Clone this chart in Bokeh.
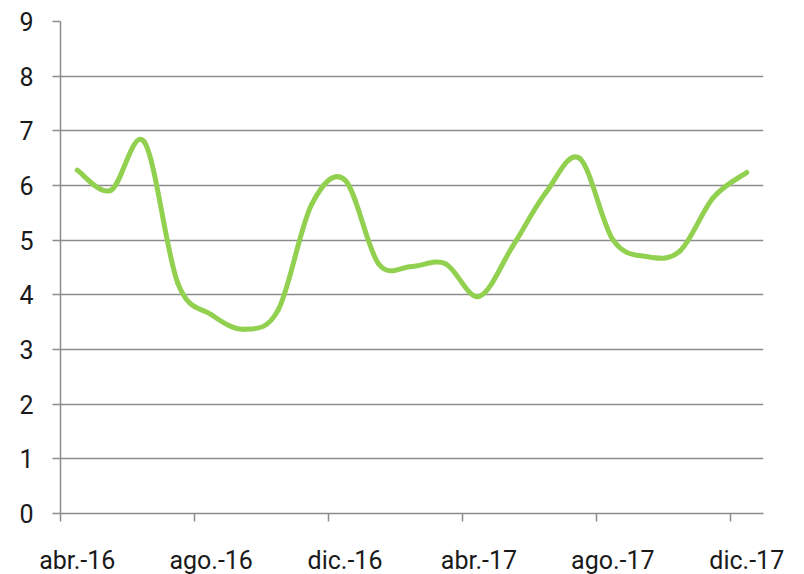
from bokeh.plotting import figure
from bokeh.models import ColumnDataSource, FixedTicker, Range1d
from bokeh.embed import file_html
from bokeh.resources import INLINE

months = ["abr.-16", "may.-16", "jun.-16", "jul.-16", "ago.-16", "sep.-16", "oct.-16",
          "nov.-16", "dic.-16", "ene.-17", "feb.-17", "mar.-17", "abr.-17", "may.-17",
          "jun.-17", "jul.-17", "ago.-17", "sep.-17", "oct.-17", "nov.-17", "dic.-17"]
values = [6.28, 5.91, 6.80, 4.22, 3.64, 3.37, 3.72, 5.65, 6.10, 4.57, 4.52, 4.57,
          3.97, 4.88, 5.87, 6.50, 5.01, 4.70, 4.80, 5.78, 6.24]
tick_labels = ["abr.-16", "ago.-16", "dic.-16", "abr.-17", "ago.-17", "dic.-17"]
y_ticks = [0, 1, 2, 3, 4, 5, 6, 7, 8, 9]

n = len(values)
xs = [i + 0.5 for i in range(n)]

# Smoothed line (Catmull-Rom style bezier segments built from the data points)
x0, y0, x1, y1, cx0, cy0, cx1, cy1 = [], [], [], [], [], [], [], []
for i in range(n - 1):
    pxm, pym = (xs[i - 1], values[i - 1]) if i > 0 else (xs[i], values[i])
    pxp, pyp = (xs[i + 2], values[i + 2]) if i + 2 < n else (xs[i + 1], values[i + 1])
    x0.append(xs[i]); y0.append(values[i])
    x1.append(xs[i + 1]); y1.append(values[i + 1])
    cx0.append(xs[i] + (xs[i + 1] - pxm) / 6.0)
    cy0.append(values[i] + (values[i + 1] - pym) / 6.0)
    cx1.append(xs[i + 1] - (pxp - xs[i]) / 6.0)
    cy1.append(values[i + 1] - (pyp - values[i]) / 6.0)

src = ColumnDataSource(dict(x0=x0, y0=y0, x1=x1, y1=y1, cx0=cx0, cy0=cy0, cx1=cx1, cy1=cy1))

p = figure(frame_width=703, frame_height=492, output_backend="svg", toolbar_location=None,
           x_range=Range1d(0, n), y_range=Range1d(0, 9),
           min_border_left=60, min_border_right=30, min_border_top=21, min_border_bottom=40)
p.outline_line_color = None
p.background_fill_color = "white"
p.border_fill_color = "white"

p.bezier(x0="x0", y0="y0", x1="x1", y1="y1", cx0="cx0", cy0="cy0", cx1="cx1", cy1="cy1",
         source=src, line_color="#92D050", line_width=5, line_cap="round")

grid_col = "#8c8c8c"
font = "Roboto"

# x axis
lab_pos = [months.index(t, 4 * i) + 0.5 for i, t in enumerate(tick_labels)]
p.xaxis.ticker = FixedTicker(ticks=lab_pos, minor_ticks=[0, 4, 8, 12, 16, 20])
p.xaxis.major_label_overrides = {pos: t for pos, t in zip(lab_pos, tick_labels)}
p.xaxis.major_tick_line_color = None
p.xaxis.minor_tick_line_color = grid_col
p.xaxis.minor_tick_line_width = 1.5
p.xaxis.minor_tick_in = 0
p.xaxis.minor_tick_out = 8
p.xaxis.axis_line_color = grid_col
p.xaxis.axis_line_width = 1.5
p.xaxis.major_label_text_font = font
p.xaxis.major_label_text_font_size = "25px"
p.xaxis.major_label_text_color = "#1a1a1a"
p.xaxis.major_label_standoff = 24

# y axis
p.yaxis.ticker = FixedTicker(ticks=y_ticks)
p.yaxis.major_tick_line_color = grid_col
p.yaxis.major_tick_line_width = 1.5
p.yaxis.major_tick_in = 0
p.yaxis.major_tick_out = 8
p.yaxis.minor_tick_line_color = None
p.yaxis.axis_line_color = grid_col
p.yaxis.axis_line_width = 1.5
p.yaxis.major_label_text_font = font
p.yaxis.major_label_text_font_size = "25px"
p.yaxis.major_label_text_color = "#1a1a1a"
p.yaxis.major_label_standoff = 19

p.xgrid.grid_line_color = None
p.ygrid.ticker = FixedTicker(ticks=y_ticks)
p.ygrid.grid_line_color = grid_col
p.ygrid.grid_line_width = 1.5

open("out.html", "w").write(file_html(p, INLINE))
